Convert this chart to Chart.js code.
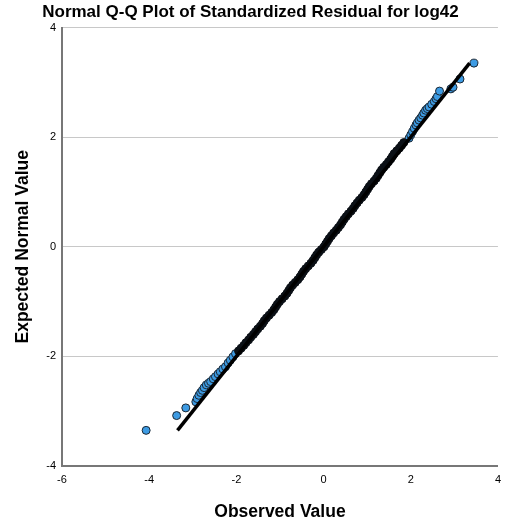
<!DOCTYPE html>
<html lang="en">
<head>
    <meta charset="UTF-8">
    <title>Normal Q-Q Plot of Standardized Residual for log42</title>
    <style>
        body {
            margin: 0;
            background: white;
        }
        canvas {
            display: block;
        }
    </style>
    <script src="https://cdn.jsdelivr.net/npm/chart.js"></script>
</head>
<body>
    <canvas id="qqChart" width="508" height="529"></canvas>

    <script>
        // x = observed value, y = expected normal value
        const tailObserved = [-4.07, -3.37, -3.16, -2.93, -2.90, -2.86, -2.82, -2.78, -2.74, -2.69, -2.64,
            -2.59, -2.53, -2.48, -2.42, -2.37, -2.31, -2.25, -2.19, -2.14, -2.08, -2.02,
            1.96, 2.00, 2.04, 2.08, 2.12, 2.15, 2.19, 2.23, 2.27, 2.30, 2.34, 2.38, 2.42,
            2.48, 2.54, 2.58, 2.61, 2.66, 2.92, 2.97, 3.13, 3.45];
        const tailExpected = [-3.35, -3.08, -2.94, -2.83, -2.77, -2.71, -2.66, -2.62, -2.57, -2.52, -2.49,
            -2.46, -2.41, -2.37, -2.32, -2.28, -2.23, -2.19, -2.12, -2.07, -2.01, -1.95,
            1.98, 2.04, 2.10, 2.16, 2.22, 2.26, 2.31, 2.35, 2.40, 2.44, 2.49, 2.52, 2.55,
            2.60, 2.65, 2.70, 2.74, 2.84, 2.88, 2.91, 3.06, 3.35];

        // dense middle of the plot, where the markers merge into one band
        const coreObserved = [-1.95, -1.89, -1.83, -1.78, -1.72, -1.67, -1.61, -1.56, -1.51, -1.45,
            -1.40, -1.36, -1.31, -1.25, -1.19, -1.14, -1.10, -1.06, -1.01, -0.95,
            -0.89, -0.84, -0.80, -0.76, -0.71, -0.65, -0.59, -0.54, -0.50, -0.46,
            -0.41, -0.35, -0.29, -0.24, -0.20, -0.16, -0.11, -0.05, 0.01, 0.05,
            0.09, 0.13, 0.18, 0.23, 0.29, 0.34, 0.39, 0.43, 0.47, 0.52,
            0.57, 0.63, 0.68, 0.72, 0.77, 0.82, 0.88, 0.93, 0.97, 1.01,
            1.05, 1.10, 1.16, 1.21, 1.25, 1.29, 1.33, 1.38, 1.44, 1.49,
            1.54, 1.58, 1.62, 1.68, 1.74, 1.79, 1.84];
        const coreExpected = [-1.90, -1.85, -1.80, -1.75, -1.70, -1.65, -1.60, -1.55, -1.50, -1.45,
            -1.40, -1.35, -1.30, -1.25, -1.20, -1.15, -1.10, -1.05, -1.00, -0.95,
            -0.90, -0.85, -0.80, -0.75, -0.70, -0.65, -0.60, -0.55, -0.50, -0.45,
            -0.40, -0.35, -0.30, -0.25, -0.20, -0.15, -0.10, -0.05, 0.00, 0.05,
            0.10, 0.15, 0.20, 0.25, 0.30, 0.35, 0.40, 0.45, 0.50, 0.55,
            0.60, 0.65, 0.70, 0.75, 0.80, 0.85, 0.90, 0.95, 1.00, 1.05,
            1.10, 1.15, 1.20, 1.25, 1.30, 1.35, 1.40, 1.45, 1.50, 1.55,
            1.60, 1.65, 1.70, 1.75, 1.80, 1.85, 1.90];

        // reference line ends
        const lineObserved = [-3.35, 3.35];
        const lineExpected = [-3.35, 3.35];

        const xTicks = [-6, -4, -2, 0, 2, 4];
        const yTicks = [-4, -2, 0, 2, 4];

        function toPoints(xs, ys) {
            return xs.map((x, i) => ({ x: x, y: ys[i] }));
        }

        Chart.defaults.font.family = "'Liberation Sans', Arial, sans-serif";
        Chart.defaults.color = '#000';

        const ctx = document.getElementById('qqChart').getContext('2d');
        new Chart(ctx, {
            type: 'scatter',
            data: {
                datasets: [
                    {
                        label: 'Line',
                        data: toPoints(lineObserved, lineExpected),
                        showLine: true,
                        borderColor: '#000',
                        borderWidth: 3.5,
                        pointRadius: 0,
                        order: 0
                    },
                    {
                        label: 'Core',
                        data: toPoints(coreObserved, coreExpected),
                        backgroundColor: '#0b1016',
                        borderColor: '#0b1016',
                        borderWidth: 1,
                        pointRadius: 4,
                        order: 1
                    },
                    {
                        label: 'Observed',
                        data: toPoints(tailObserved, tailExpected),
                        backgroundColor: '#3d9be3',
                        borderColor: '#1b2733',
                        borderWidth: 1,
                        pointRadius: 4,
                        order: 2
                    }
                ]
            },
            options: {
                responsive: false,
                devicePixelRatio: 1,
                animation: false,
                events: [],
                layout: {
                    padding: { left: 0, right: 7, top: 0, bottom: 0 }
                },
                plugins: {
                    legend: { display: false },
                    tooltip: { enabled: false },
                    title: {
                        display: true,
                        text: 'Normal Q-Q Plot of Standardized Residual for log42',
                        font: { size: 17, weight: 'bold' },
                        padding: { top: 2, bottom: 5.1 }
                    }
                },
                scales: {
                    x: {
                        type: 'linear',
                        min: -6,
                        max: 4,
                        afterFit: s => { s.height = 63; },
                        afterBuildTicks: s => { s.ticks = xTicks.map(v => ({ value: v })); },
                        ticks: { font: { size: 11 }, padding: 7 },
                        grid: { display: false, drawTicks: false },
                        border: { display: true, color: '#777', width: 2 },
                        title: {
                            display: true,
                            text: 'Observed Value',
                            font: { size: 17.5, weight: 'bold' },
                            padding: { top: 0, bottom: 6.5 }
                        }
                    },
                    y: {
                        type: 'linear',
                        min: -4,
                        max: 4,
                        afterFit: s => { s.width = 62; },
                        afterBuildTicks: s => { s.ticks = yTicks.map(v => ({ value: v })); },
                        ticks: { font: { size: 11 }, padding: 6 },
                        grid: { color: '#c8c8c8', lineWidth: 1, drawTicks: false },
                        border: { display: true, color: '#777', width: 2 },
                        title: {
                            display: true,
                            text: 'Expected Normal Value',
                            font: { size: 17.5, weight: 'bold' },
                            padding: { top: 13, bottom: 0 }
                        }
                    }
                }
            }
        });
    </script>
</body>
</html>
